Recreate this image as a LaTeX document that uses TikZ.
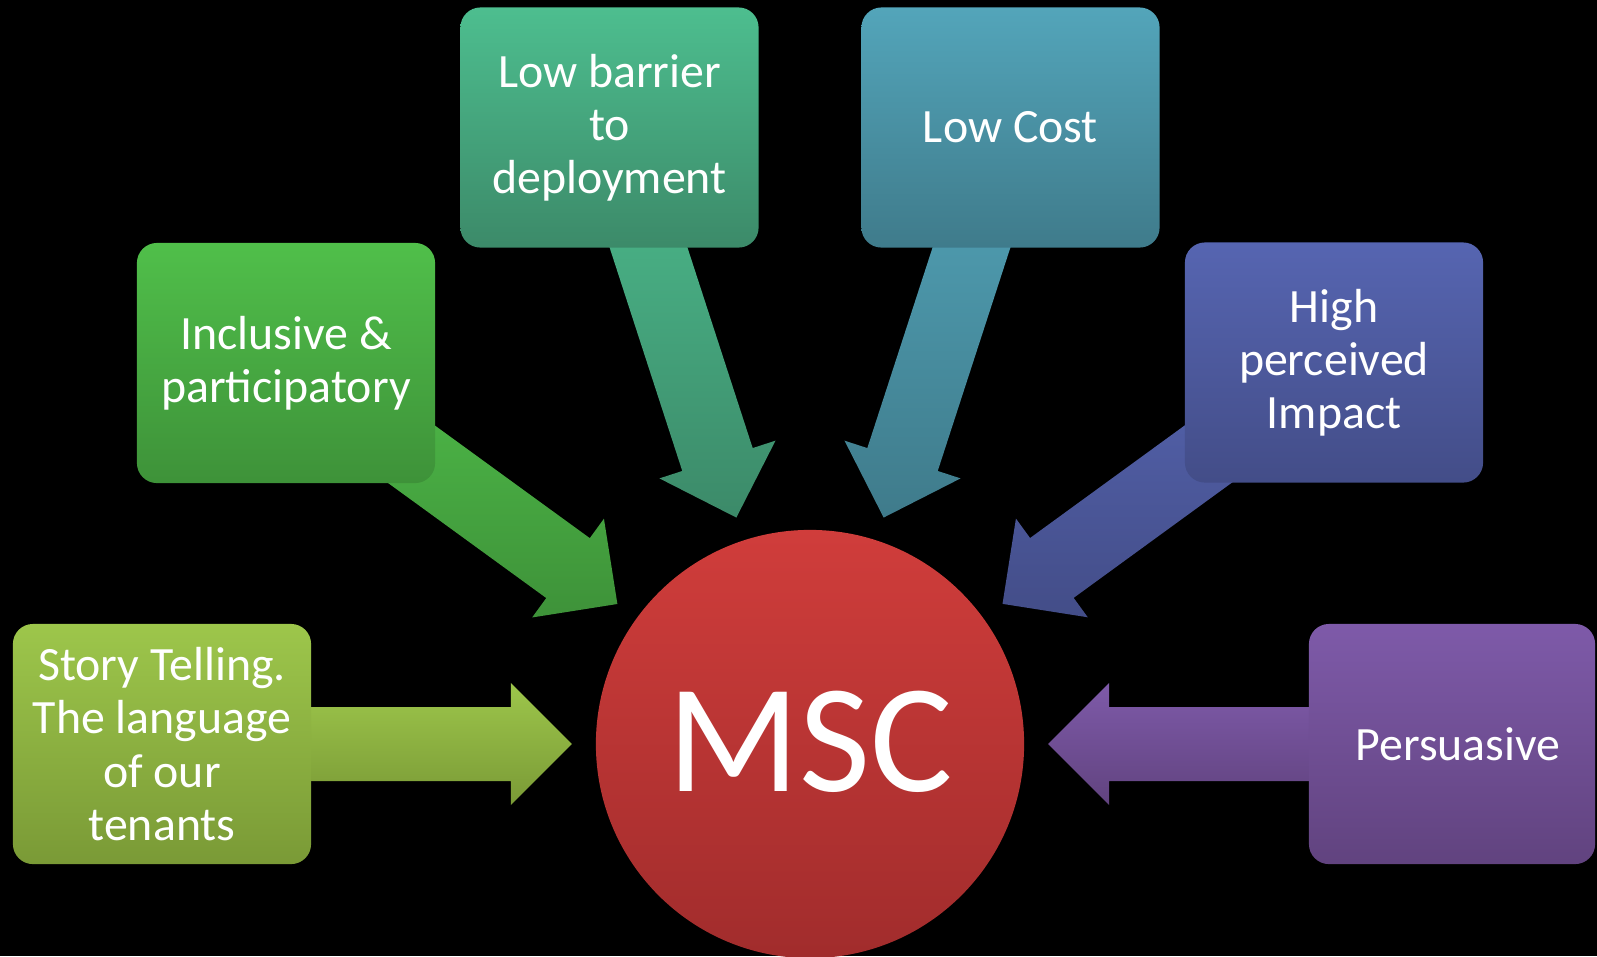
\documentclass[tikz,border=0pt]{standalone}
\usepackage{fontspec}
\setmainfont{Carlito}
\usetikzlibrary{calc}

\definecolor{storyA}{HTML}{9DC64B}
\definecolor{storyB}{HTML}{7A9A36}
\definecolor{inclA}{HTML}{50BF4A}
\definecolor{inclB}{HTML}{3E9239}
\definecolor{barA}{HTML}{4DBE8F}
\definecolor{barB}{HTML}{3C8A69}
\definecolor{costA}{HTML}{53A5BA}
\definecolor{costB}{HTML}{3F7B8B}
\definecolor{impA}{HTML}{5665B1}
\definecolor{impB}{HTML}{434D88}
\definecolor{persA}{HTML}{7E5AA9}
\definecolor{persB}{HTML}{61437F}
\definecolor{mscA}{HTML}{D03D3B}
\definecolor{mscB}{HTML}{A12C2C}

\pgfdeclarelayer{back}
\pgfdeclarelayer{arrows}
\pgfsetlayers{back,arrows,main}

\tikzset{
  box/.style={rectangle, rounded corners=0.2cm, minimum width=2.98cm, minimum height=2.4cm,
    inner sep=0pt, align=center, text=white, font=\fontsize{13.6}{15.1}\selectfont},
  hub/.style={circle, minimum size=4.28cm, inner sep=0pt, text=white,
    top color=mscA, bottom color=mscB, font=\fontsize{44}{44}\selectfont}
}

\newcommand{\msarrow}[2]{%
  \coordinate (#1-tip) at ($(msc.center)!2.38cm!(#1.center)$);
  \coordinate (#1-base) at ($(#1-tip)!0.61cm!(#1.center)$);
  \begin{pgfonlayer}{arrows}
  \path[top color=#2A, bottom color=#2B]
    ($(#1.center)!0.37cm!90:(#1-tip)$) -- ($(#1-base)!0.37cm!90:(#1-tip)$)
    -- ($(#1-base)!0.61cm!90:(#1-tip)$) -- (#1-tip)
    -- ($(#1-base)!0.61cm!-90:(#1-tip)$) -- ($(#1-base)!0.37cm!-90:(#1-tip)$)
    -- ($(#1.center)!0.37cm!-90:(#1-tip)$) -- cycle;
  \end{pgfonlayer}}

\begin{document}
\begin{tikzpicture}[x=0.01cm, y=-0.01cm]
  \useasboundingbox (0,0) rectangle (1597,956);
  \begin{pgfonlayer}{back}
    \fill[black] (0,0) rectangle (1597,956);
  \end{pgfonlayer}

  \node[hub] (msc) at (810,744) {\raisebox{0.06cm}{MSC}};

  \node[box, top color=storyA, bottom color=storyB] (story) at (162,744) {Story Telling.\\The language\\of our\\tenants};
  \node[box, top color=inclA, bottom color=inclB] (incl) at (286,363) {Inclusive \&\\participatory};
  \node[box, top color=barA, bottom color=barB] (barrier) at (609.5,127.5) {Low barrier\\to\\deployment};
  \node[box, top color=costA, bottom color=costB] (cost) at (1010.5,127.5) {Low Cost};
  \node[box, top color=impA, bottom color=impB] (impact) at (1334,362.5) {High\\perceived\\Impact};
  \node[box, minimum width=2.86cm, top color=persA, bottom color=persB] (pers) at (1452,744) {\hspace*{0.12cm}Persuasive};

  \msarrow{story}{story}
  \msarrow{incl}{incl}
  \msarrow{barrier}{bar}
  \msarrow{cost}{cost}
  \msarrow{impact}{imp}
  \msarrow{pers}{pers}
\end{tikzpicture}
\end{document}
